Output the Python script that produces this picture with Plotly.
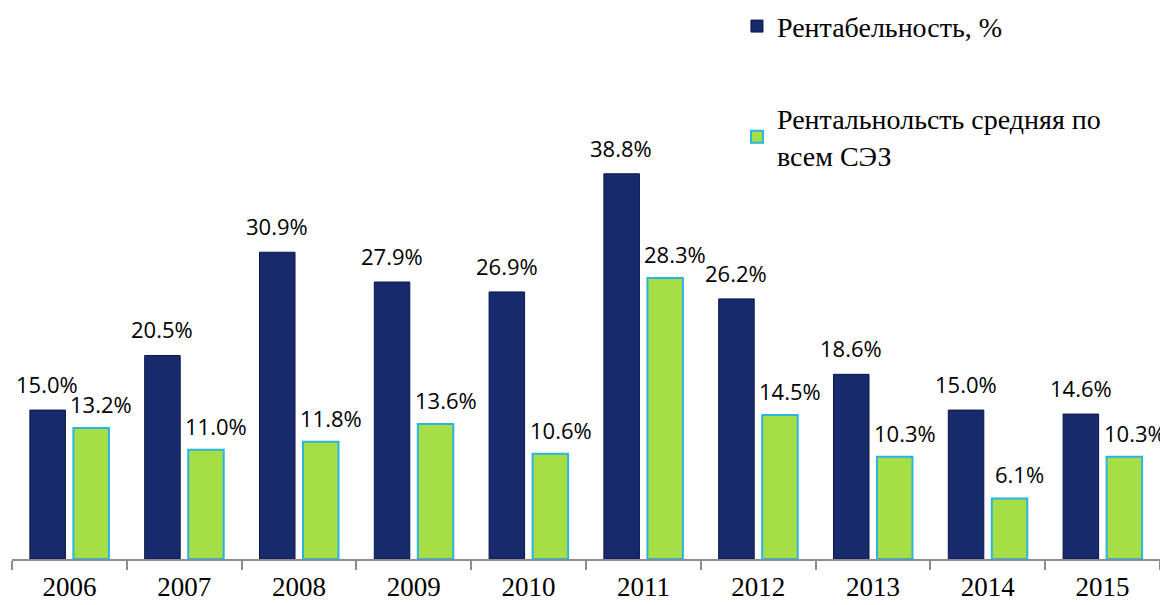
import plotly.graph_objects as go

years = ["2006", "2007", "2008", "2009", "2010", "2011", "2012", "2013", "2014", "2015"]
rent = [15.0, 20.5, 30.9, 27.9, 26.9, 38.8, 26.2, 18.6, 15.0, 14.6]
rent_avg = [13.2, 11.0, 11.8, 13.6, 10.6, 28.3, 14.5, 10.3, 6.1, 10.3]
name1 = "Рентабельность, %"
name2 = "Рентальнольсть средняя по<br>всем СЭЗ"

fig = go.Figure()
fig.add_trace(go.Bar(x=years, y=rent, name=name1, legendgroup="a",
                     marker=dict(color="#172A6C", line=dict(color="#0B1648", width=1))))
fig.add_trace(go.Bar(x=years, y=rent_avg, name=name2, legendgroup="b",
                     marker=dict(color="#A6DF45", line=dict(color="#2BB3E3", width=2))))

lab_font = dict(family="Open Sans, Liberation Sans, sans-serif", size=22, color="#000")
for i, v in enumerate(rent):
    fig.add_annotation(x=i, y=v, text=f"{v:.1f}%", showarrow=False, xref="x", yref="y",
                       yanchor="bottom", xshift=-22, yshift=9, font=lab_font)
for i, v in enumerate(rent_avg):
    fig.add_annotation(x=i, y=v, text=f"{v:.1f}%", showarrow=False, xref="x", yref="y",
                       yanchor="bottom", xshift=32, yshift=7, font=lab_font)

fig.update_layout(
    width=1160, height=597,
    margin=dict(l=4, r=8, t=0, b=46, autoexpand=False),
    paper_bgcolor="white", plot_bgcolor="white",
    barmode="group", bargap=0.242, bargroupgap=0.184,
    showlegend=True,
    legend=dict(x=0.6315, y=1.012, xanchor="left", yanchor="top",
                font=dict(family="Liberation Serif, Times New Roman, serif", size=28, color="#000"),
                traceorder="grouped", tracegroupgap=53, itemwidth=30,
                bgcolor="rgba(0,0,0,0)"),
    xaxis=dict(type="category", range=[-0.5, len(years) - 0.5], showline=True,
               linecolor="#8c8c8c", linewidth=1.5, ticks="outside",
               tickson="boundaries", ticklen=9, tickcolor="#8c8c8c", tickwidth=1.5,
               ticklabelstandoff=3,
               tickfont=dict(family="Liberation Serif, Times New Roman, serif", size=27, color="#000")),
    yaxis=dict(range=[0, 55.5], visible=False, showgrid=False),
)
fig.write_html("out.html")
